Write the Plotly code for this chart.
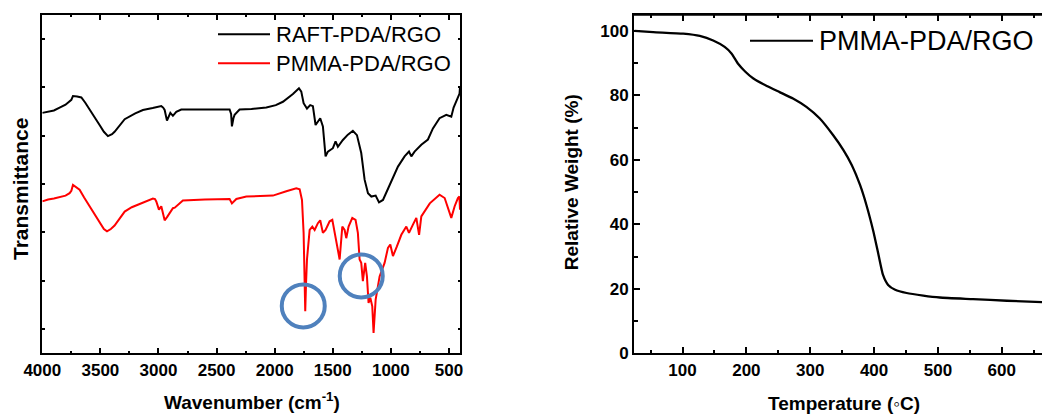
import plotly.graph_objects as go

# ---------------- FTIR spectra (arbitrary transmittance units, offset) ----------------
wn_raft = [4000, 3900, 3851, 3800, 3750, 3736, 3700, 3664, 3630, 3593, 3550, 3507, 3470, 3435,
           3400, 3378, 3330, 3291, 3200, 3134, 3050, 2976, 2960, 2947, 2927, 2912, 2898, 2876,
           2860, 2847, 2804, 2600, 2388, 2375, 2368, 2355, 2345, 2302, 2200, 2072, 1990, 1929,
           1843, 1791, 1771, 1751, 1722, 1694, 1671, 1648, 1625, 1608, 1585, 1562, 1542, 1520,
           1499, 1476, 1456, 1413, 1370, 1327, 1292, 1255, 1226, 1197, 1168, 1131, 1102, 1068,
           1010, 939, 882, 844, 824, 796, 738, 681, 638, 581, 523, 480, 460, 431, 409, 405]
t_raft = [4.47, 4.52, 4.58, 4.64, 4.74, 4.82, 4.81, 4.79, 4.68, 4.53, 4.38, 4.22, 4.08, 3.99,
          4.03, 4.08, 4.22, 4.34, 4.46, 4.53, 4.57, 4.61, 4.58, 4.53, 4.31, 4.40, 4.47, 4.41,
          4.46, 4.49, 4.54, 4.54, 4.54, 4.45, 4.19, 4.36, 4.43, 4.54, 4.55, 4.58, 4.63, 4.70,
          4.86, 4.98, 4.91, 4.67, 4.56, 4.63, 4.61, 4.22, 4.29, 4.36, 4.19, 3.57, 3.67, 3.70,
          3.74, 3.88, 3.77, 3.91, 4.02, 4.10, 4.01, 3.64, 3.09, 2.81, 2.74, 2.76, 2.62, 2.67,
          2.98, 3.36, 3.57, 3.67, 3.57, 3.67, 3.81, 3.92, 4.15, 4.36, 4.43, 4.39, 4.58, 4.77,
          4.87, 5.00]

wn_pmma = [4000, 3950, 3900, 3851, 3800, 3765, 3750, 3736, 3710, 3679, 3640, 3593, 3550, 3507,
           3470, 3443, 3410, 3378, 3330, 3291, 3230, 3162, 3100, 3048, 3030, 3019, 2996, 2976,
           2960, 2947, 2925, 2904, 2876, 2860, 2847, 2790, 2600, 2388, 2368, 2330, 2244, 2100,
           2015, 1900, 1814, 1785, 1765, 1751, 1744, 1737, 1730, 1722, 1699, 1676, 1656, 1628,
           1608, 1585, 1562, 1527, 1504, 1484, 1464, 1441, 1418, 1398, 1384, 1364, 1332, 1304,
           1284, 1269, 1255, 1241, 1221, 1206, 1192, 1177, 1160, 1149, 1131, 1097, 1054, 1025,
           1005, 982, 948, 910, 867, 844, 810, 781, 757, 738, 665, 581, 537, 509, 480, 451,
           423, 410, 405]
t_pmma = [2.64, 2.68, 2.70, 2.73, 2.76, 2.81, 2.86, 2.98, 2.93, 2.88, 2.72, 2.54, 2.36, 2.19,
          2.07, 2.02, 2.07, 2.14, 2.30, 2.43, 2.52, 2.59, 2.65, 2.70, 2.69, 2.64, 2.47, 2.54,
          2.38, 2.25, 2.32, 2.40, 2.50, 2.51, 2.54, 2.66, 2.68, 2.69, 2.60, 2.69, 2.74, 2.75,
          2.76, 2.85, 2.91, 2.89, 2.67, 1.99, 1.10, 0.37, 0.95, 1.44, 2.05, 2.12, 2.05, 2.19,
          2.25, 1.99, 2.05, 2.23, 2.26, 1.99, 1.71, 1.44, 2.12, 2.05, 1.88, 2.12, 2.30, 2.26,
          1.99, 1.44, 1.37, 0.99, 1.37, 1.09, 0.54, 0.65, 0.47, -0.08, 0.61, 1.09, 1.37, 1.68,
          1.75, 1.51, 1.71, 1.95, 2.12, 1.99, 2.16, 2.30, 1.95, 2.33, 2.60, 2.78, 2.71, 2.50,
          2.30, 2.54, 2.71, 2.74, 2.47]

# Bands highlighted with rings on the PMMA spectrum
ring_wavenumbers = [1754, 1255]
ring_levels = [0.48, 1.10]

# ---------------- TGA curve ----------------
temp_c = [25, 54, 101, 127, 148, 166, 177, 187, 198, 211, 232, 252, 273, 294, 315, 336, 352,
          365, 378, 388, 399, 407, 414, 422, 433, 451, 477, 503, 555, 608, 663]
weight_pct = [100.0, 99.6, 99.1, 98.4, 97.0, 95.0, 92.9, 89.8, 87.4, 85.2, 82.9, 81.0, 79.0,
              76.4, 72.8, 67.6, 63.0, 58.4, 52.2, 46.0, 37.7, 30.5, 24.3, 21.2, 19.7, 18.7,
              17.9, 17.3, 16.8, 16.3, 15.9]

W, H = 1042, 415
FONT = "Liberation Sans"


def px(x):
    return x / W


def py(y):
    return 1 - y / H


fig = go.Figure()
fig.add_trace(go.Scatter(x=wn_raft, y=t_raft, mode="lines", name="RAFT-PDA/RGO",
                         line=dict(color="black", width=2), xaxis="x", yaxis="y",
                         showlegend=False))
fig.add_trace(go.Scatter(x=wn_pmma, y=t_pmma, mode="lines", name="PMMA-PDA/RGO",
                         line=dict(color="#ff0000", width=2), xaxis="x", yaxis="y",
                         showlegend=False))
fig.add_trace(go.Scatter(x=temp_c, y=weight_pct, mode="lines", name="PMMA-PDA/RGO",
                         line=dict(color="black", width=2.3, shape="spline", smoothing=0.5),
                         xaxis="x2", yaxis="y2", showlegend=False))

tickfont = dict(family=FONT, size=17, color="black", weight="bold")
ydom = [py(353.3), py(14.7)]
x2dom = [px(634), 1.0]

axis_common = dict(showline=True, linewidth=2, linecolor="black", ticks="inside",
                   tickwidth=2, tickcolor="black", showgrid=False, zeroline=False,
                   tickfont=tickfont, automargin=False)

fig.update_layout(
    width=W, height=H, margin=dict(l=0, r=0, t=0, b=0, autoexpand=False),
    paper_bgcolor="white", plot_bgcolor="white", showlegend=False,
    xaxis=dict(domain=[px(42.3), px(460)], range=[4000, 405], anchor="y",
               tickmode="array", tickvals=[4000, 3500, 3000, 2500, 2000, 1500, 1000, 500],
               ticklen=5, mirror="ticks",
               minor=dict(tickmode="array",
                          tickvals=[3750, 3250, 2750, 2250, 1750, 1250, 750],
                          ticks="inside", ticklen=2.5, tickwidth=2, tickcolor="black"),
               **axis_common),
    yaxis=dict(domain=ydom, range=[-0.5, 6.5], anchor="x",
               tickmode="array", tickvals=[0, 1, 2, 3, 4, 5, 6], showticklabels=False,
               ticklen=2.5, mirror="ticks", **axis_common),
    xaxis2=dict(domain=x2dom, range=[24, 663], anchor="y2",
                tickmode="array", tickvals=[100, 200, 300, 400, 500, 600],
                ticklen=6, mirror="ticks",
                minor=dict(tickmode="array", tickvals=[50, 150, 250, 350, 450, 550, 650],
                           ticks="inside", ticklen=3.5, tickwidth=2, tickcolor="black"),
                **axis_common),
    yaxis2=dict(domain=ydom, range=[0, 105], anchor="x2",
                tickmode="array", tickvals=[0, 20, 40, 60, 80, 100],
                ticklen=6, mirror=False,
                minor=dict(tickmode="array", tickvals=[10, 30, 50, 70, 90],
                           ticks="inside", ticklen=3.5, tickwidth=2, tickcolor="black"),
                **axis_common),
)

# Top border of the TGA frame (the right side runs off the page)
fig.add_shape(type="line", xref="paper", yref="paper", x0=x2dom[0], x1=x2dom[1],
              y0=ydom[1], y1=ydom[1], line=dict(color="black", width=2))

# Rings around the highlighted bands
for wn, lvl in zip(ring_wavenumbers, ring_levels):
    fig.add_shape(type="circle", xref="x", yref="y", xsizemode="pixel", ysizemode="pixel",
                  xanchor=wn, yanchor=lvl, x0=-21.5, x1=21.5, y0=-21.5, y1=21.5,
                  line=dict(color="#4F81BD", width=4))

# Legend keys
legend_keys = [
    (218, 270, 34.3, "black", "RAFT-PDA/RGO", 22),
    (218, 270, 63.3, "#ff0000", "PMMA-PDA/RGO", 22),
    (750, 813, 40.7, "black", "PMMA-PDA/RGO", 27),
]
for x0, x1, yk, col, label, fs in legend_keys:
    fig.add_shape(type="line", xref="paper", yref="paper", x0=px(x0), x1=px(x1),
                  y0=py(yk), y1=py(yk), line=dict(color=col, width=2))
    fig.add_annotation(x=px(x1 + 4), y=py(yk), xref="paper", yref="paper", text=label,
                       showarrow=False, xanchor="left", yanchor="middle",
                       font=dict(family=FONT, size=fs, color="black"))

title_font = dict(family=FONT, size=19, color="black", weight="bold")
fig.add_annotation(x=px(20), y=py(189), xref="paper", yref="paper", text="Transmittance",
                   textangle=-90, showarrow=False, xanchor="center", yanchor="middle",
                   font=dict(family=FONT, size=21, color="black", weight="bold"))
fig.add_annotation(x=px(251.7), y=py(401), xref="paper", yref="paper",
                   text="Wavenumber (cm<sup>-1</sup>)", showarrow=False,
                   xanchor="center", yanchor="middle", font=title_font)
fig.add_annotation(x=px(571.7), y=py(182.5), xref="paper", yref="paper",
                   text="Relative Weight (%)", textangle=-90, showarrow=False,
                   xanchor="center", yanchor="middle", font=title_font)
fig.add_annotation(x=px(844), y=py(403), xref="paper", yref="paper",
                   text="Temperature (◦C)", showarrow=False,
                   xanchor="center", yanchor="middle", font=title_font)

fig.write_html("out.html")
